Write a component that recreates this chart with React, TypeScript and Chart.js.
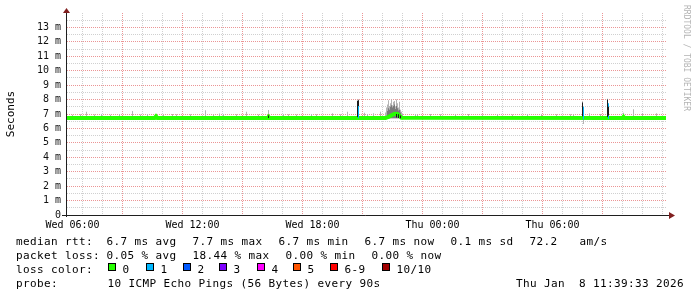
import React, { useEffect, useRef } from "react";
import { Chart, registerables } from "chart.js";

Chart.register(...registerables);

// ---------------- data (time = hours since Wed 00:00, values = ms) ----------------
const xStartHour = 5.725;
const xEndHour = 35.725;
const yMaxMs = 14;

const xTickHours = [6, 12, 18, 24, 30];
const xTickLabels = ["Wed 06:00", "Wed 12:00", "Wed 18:00", "Thu 00:00", "Thu 06:00"];

// median rtt (loss 0 colour)
const medianTimes = [5.725, 10.1, 10.175, 10.25, 15.75, 15.8, 15.85, 21.65, 21.8, 21.95, 22.1, 22.25, 22.35, 22.45, 33.5, 33.55, 33.6, 35.675];
const medianRtt = [6.72, 6.72, 6.84, 6.72, 6.72, 6.8, 6.72, 6.72, 6.8, 6.92, 7.02, 7.0, 6.88, 6.74, 6.72, 6.8, 6.72, 6.72];

// light smoke (spread of the pings)
const smokeTimes = [
  6.0, 6.4, 6.7, 7.1, 7.45, 7.9, 8.35, 9.0, 9.4, 9.75, 10.55, 11.0, 11.2, 11.9, 12.65, 13.05, 13.35, 13.55,
  14.2, 14.7, 15.3, 15.8, 16.55, 16.8, 17.2, 17.95, 18.2, 19.0, 19.4, 19.75, 20.25, 20.3, 20.6, 20.75, 21.05,
  21.4, 21.65, 21.7, 21.75, 21.8, 21.85, 21.9, 21.95, 22.0, 22.05, 22.1, 22.15, 22.2, 22.25, 22.3, 22.35, 22.4,
  22.45, 22.5, 23.15, 23.25, 23.9, 24.4, 25.15, 25.8, 26.5, 27.25, 28.0, 28.75, 29.45, 30.2, 30.9, 31.05, 31.5,
  31.55, 31.85, 32.4, 32.75, 33.55, 34.05, 34.5, 35.2,
];
const smokeLow = [
  6.7, 6.7, 6.7, 6.7, 6.7, 6.7, 6.7, 6.7, 6.7, 6.7, 6.7, 6.7, 6.7, 6.7, 6.7, 6.7, 6.7, 6.7,
  6.7, 6.7, 6.7, 6.7, 6.7, 6.7, 6.7, 6.7, 6.7, 6.7, 6.7, 6.7, 6.7, 6.7, 6.7, 6.7, 6.7,
  6.7, 6.7, 6.7, 6.7, 6.7, 6.7, 6.7, 6.7, 6.7, 6.7, 6.7, 6.7, 6.7, 6.7, 6.7, 6.7, 6.7,
  6.7, 6.7, 6.7, 6.7, 6.7, 6.7, 6.7, 6.7, 6.7, 6.7, 6.7, 6.7, 6.7, 6.7, 6.7, 6.7, 6.7,
  6.3, 6.7, 6.7, 6.7, 6.7, 6.7, 6.7, 6.7,
];
const smokeHigh = [
  6.95, 6.98, 7.16, 6.97, 7.0, 6.95, 6.98, 7.21, 6.97, 7.0, 6.96, 7.0, 6.98, 6.99, 7.26, 6.96, 7.03, 7.0,
  6.99, 7.16, 6.97, 7.28, 7.0, 6.98, 6.96, 7.0, 6.98, 7.05, 6.98, 7.16, 7.97, 8.02, 7.09, 7.0, 7.05,
  7.16, 7.1, 7.45, 7.65, 7.95, 7.55, 7.75, 8.0, 7.6, 7.85, 7.9, 7.5, 8.0, 7.75, 7.45, 7.85, 7.3,
  7.15, 7.0, 7.0, 6.97, 7.0, 6.98, 6.97, 7.0, 6.96, 6.99, 6.97, 7.0, 6.96, 6.99, 6.98, 6.96, 7.85,
  6.68, 7.05, 7.0, 8.05, 7.09, 7.33, 7.05, 7.05,
];

// denser smoke core
const coreTimes = [21.75, 21.8, 21.85, 21.9, 21.95, 22.0, 22.05, 22.1, 22.15, 22.2, 22.25, 22.3, 22.35, 22.4];
const coreHigh = [7.2, 7.4, 7.3, 7.5, 7.6, 7.45, 7.55, 7.65, 7.35, 7.55, 7.4, 7.25, 7.3, 7.1];

// darkest smoke
const darkTimes = [15.8, 20.25, 20.3, 22.2, 22.3, 22.4, 31.5, 32.75, 32.8];
const darkLow = [6.72, 6.8, 7.55, 6.75, 6.72, 6.7, 6.85, 6.8, 6.9];
const darkHigh = [6.9, 7.9, 7.95, 7.0, 6.98, 6.9, 7.8, 8.0, 7.5];

// median segments drawn in the "1 lost" colour
const loss1Times = [20.3, 31.55, 32.8];
const loss1Low = [6.7, 6.62, 6.65];
const loss1High = [7.62, 7.5, 7.75];

// legend texts
const rttLabel = "median rtt:";
const rttStats = ["6.7 ms avg", "7.7 ms max", "6.7 ms min", "6.7 ms now", "0.1 ms sd", "72.2", "am/s"];
const lossLabel = "packet loss:";
const lossStats = ["0.05 % avg", "18.44 % max", "0.00 % min", "0.00 % now"];
const colorLabel = "loss color:";
const lossNames = ["0", "1", "2", "3", "4", "5", "6-9", "10/10"];
const lossColors = ["#26ff00", "#00b8ff", "#0059ff", "#7e00ff", "#ff00ff", "#ff5500", "#ff0000", "#a10000"];
const probeLabel = "probe:";
const probeText = "10 ICMP Echo Pings (56 Bytes) every 90s";
const dateText = "Thu Jan  8 11:39:33 2026";
const yTitle = "Seconds";
const watermark = "RRDTOOL / TOBI OETIKER";

// ---------------- layout / style ----------------
const MONO = "'DejaVu Sans Mono', monospace";
const rttX = [107, 193, 279, 365, 451, 530, 580];
const lossX = [107, 193, 286, 372];
const squareX = [108, 146, 183, 219, 257, 293, 330, 382];
const rowBase = [245, 259, 273, 287];
const minorGrid = "#d0d0d0";
const majorGrid = "#eb9595";

const pts = (xs: number[], lo: number[], hi: number[]) => xs.map((x, i) => ({ x, y: [lo[i], hi[i]] }));

const decor = {
  id: "rrdDecor",
  afterDraw(chart: any) {
    const { ctx, chartArea: a } = chart;
    ctx.save();
    // axes
    ctx.strokeStyle = "#1f1f1f";
    ctx.lineWidth = 1;
    ctx.beginPath();
    ctx.moveTo(62, a.bottom + 0.5);
    ctx.lineTo(a.right + 2, a.bottom + 0.5);
    ctx.moveTo(a.left - 0.5, a.bottom + 2);
    ctx.lineTo(a.left - 0.5, a.top);
    ctx.stroke();
    // arrows
    ctx.fillStyle = "#801f1f";
    ctx.beginPath();
    ctx.moveTo(a.left - 4, a.top);
    ctx.lineTo(a.left + 3, a.top);
    ctx.lineTo(a.left - 0.5, a.top - 5);
    ctx.closePath();
    ctx.fill();
    ctx.beginPath();
    ctx.moveTo(a.right + 2, a.bottom - 3);
    ctx.lineTo(a.right + 2, a.bottom + 4);
    ctx.lineTo(a.right + 8, a.bottom + 0.5);
    ctx.closePath();
    ctx.fill();

    // y title
    ctx.fillStyle = "#000";
    ctx.font = `11px ${MONO}`;
    ctx.save();
    ctx.translate(11, (a.top + a.bottom) / 2);
    ctx.rotate(-Math.PI / 2);
    ctx.textAlign = "center";
    ctx.textBaseline = "middle";
    ctx.fillText(yTitle, 0, 0);
    ctx.restore();

    // watermark
    ctx.save();
    ctx.fillStyle = "#b4b4b4";
    ctx.font = `8px ${MONO}`;
    ctx.translate(686, 5);
    ctx.rotate(Math.PI / 2);
    ctx.textAlign = "left";
    ctx.textBaseline = "middle";
    ctx.fillText(watermark, 0, 0);
    ctx.restore();

    // legend
    ctx.fillStyle = "#000";
    ctx.font = `11px ${MONO}`;
    (ctx as any).letterSpacing = "0.38px";
    ctx.textAlign = "left";
    ctx.textBaseline = "alphabetic";
    ctx.fillText(rttLabel, 16, rowBase[0]);
    rttStats.forEach((t, i) => ctx.fillText(t, rttX[i] - 0.5, rowBase[0]));
    ctx.fillText(lossLabel, 16, rowBase[1]);
    lossStats.forEach((t, i) => ctx.fillText(t, lossX[i] - 0.5, rowBase[1]));
    ctx.fillText(colorLabel, 16, rowBase[2]);
    lossNames.forEach((t, i) => {
      const sx = squareX[i];
      ctx.fillStyle = lossColors[i];
      ctx.fillRect(sx, rowBase[2] - 10, 8, 8);
      ctx.strokeStyle = "#000";
      ctx.strokeRect(sx + 0.5, rowBase[2] - 9.5, 7, 7);
      ctx.fillStyle = "#000";
      ctx.fillText(t, sx + 14.5, rowBase[2]);
    });
    ctx.fillText(probeLabel, 16, rowBase[3]);
    ctx.fillText(probeText, 107.5, rowBase[3]);
    ctx.textAlign = "right";
    ctx.fillText(dateText, 684, rowBase[3]);
    ctx.restore();
  },
};

const gridColorX = (c: any) => {
  const v = c && c.tick ? c.tick.value : 1;
  return Math.round(v) % 3 === 0 ? majorGrid : minorGrid;
};
const gridColorY = (c: any) => {
  const v = c && c.tick ? c.tick.value : 0.5;
  if (v >= yMaxMs) return "rgba(0,0,0,0)";
  return Math.abs(v - Math.round(v)) < 1e-6 ? majorGrid : minorGrid;
};

export default function App() {
  const ref = useRef<HTMLCanvasElement>(null);
  useEffect(() => {
    const barBase = { type: "bar" as const, barThickness: 1, grouped: false, inflateAmount: 0, borderWidth: 0 };
    const chart = new Chart(ref.current as HTMLCanvasElement, {
      type: "bar",
      data: {
        datasets: [
          { ...barBase, label: "smoke", data: pts(smokeTimes, smokeLow, smokeHigh) as any, backgroundColor: "#b4b4b4", order: 6 },
          { ...barBase, label: "core", data: pts(coreTimes, coreTimes.map(() => 6.7), coreHigh) as any, backgroundColor: "#7a7a7a", order: 5 },
          {
            type: "line",
            label: "median",
            data: medianTimes.map((x, i) => ({ x, y: medianRtt[i] })) as any,
            borderColor: lossColors[0],
            borderWidth: 4,
            pointRadius: 0,
            tension: 0,
            fill: false,
            order: 4,
          } as any,
          { ...barBase, label: "loss1", data: pts(loss1Times, loss1Low, loss1High) as any, backgroundColor: lossColors[1], order: 3 },
          { ...barBase, label: "dark", data: pts(darkTimes, darkLow, darkHigh) as any, backgroundColor: "#1c1c1c", order: 2 },
        ],
      },
      options: {
        animation: false,
        responsive: false,
        devicePixelRatio: 1,
        events: [],
        layout: { padding: { top: 13, right: 30, left: 0, bottom: 0 } },
        plugins: { legend: { display: false }, tooltip: { enabled: false }, title: { display: false } },
        scales: {
          x: {
            type: "linear",
            min: xStartHour,
            max: xEndHour,
            offset: false,
            afterBuildTicks: (axis: any) => {
              const t: { value: number }[] = [];
              for (let h = Math.ceil(axis.min); h <= Math.floor(axis.max); h++) t.push({ value: h });
              axis.ticks = t;
            },
            afterFit: (s: any) => {
              s.height = 82;
            },
            ticks: {
              autoSkip: false,
              maxRotation: 0,
              minRotation: 0,
              padding: 4,
              color: "#000",
              font: { family: MONO, size: 10 },
              callback: (v: any) => {
                const i = xTickHours.indexOf(Number(v));
                return i >= 0 ? xTickLabels[i] : "";
              },
            },
            grid: {
              drawTicks: false,
              lineWidth: 1,
              color: gridColorX,
            },
            border: { display: false, dash: [1, 1] },
          },
          y: {
            type: "linear",
            min: 0,
            max: yMaxMs,
            afterFit: (s: any) => {
              s.width = 67;
            },
            ticks: {
              stepSize: 0.5,
              maxTicksLimit: 100,
              autoSkip: false,
              padding: 6,
              color: "#111",
              font: { family: MONO, size: 10 },
              callback: (v: any) => {
                const n = Number(v);
                if (n === 0) return "0";
                if (Number.isInteger(n) && n < yMaxMs) return `${n} m`;
                return "";
              },
            },
            grid: {
              drawTicks: false,
              lineWidth: 1,
              color: gridColorY,
            },
            border: { display: false, dash: [1, 1] },
          },
        },
      },
      plugins: [decor],
    });
    return () => chart.destroy();
  }, []);
  return (
    <div style={{ position: "absolute", left: 0, top: 0, width: 697, height: 297, background: "#fff" }}>
      <canvas ref={ref} width={697} height={297} style={{ display: "block", width: 697, height: 297 }} />
    </div>
  );
}
